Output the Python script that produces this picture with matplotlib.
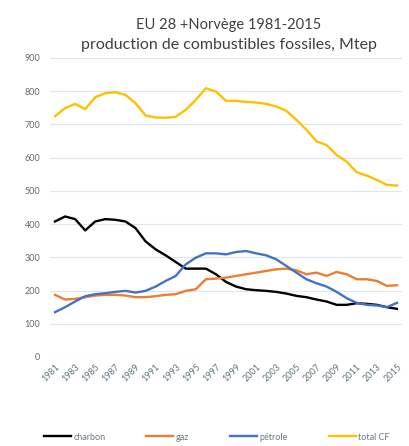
import matplotlib
matplotlib.use("Agg")
import matplotlib.pyplot as plt

# ── data (Mtep) ──────────────────────────────────────────────────────────────
years = list(range(1981, 2016))

charbon = [408, 423, 415, 381, 408, 415, 413, 408, 388, 348,
           324, 306, 286, 266, 266, 266, 249, 226, 212, 204,
           201, 199, 196, 191, 184, 180, 173, 167, 157, 157,
           162, 160, 157, 150, 145]

gaz = [187, 173, 175, 180, 185, 187, 187, 185, 180, 180,
       183, 187, 189, 199, 204, 234, 236, 239, 244, 249,
       254, 259, 264, 266, 261, 249, 254, 244, 256, 249,
       234, 234, 229, 214, 216]

petrole = [135, 150, 167, 183, 189, 192, 196, 199, 194, 199,
           212, 229, 244, 279, 299, 312, 312, 309, 316, 319,
           312, 306, 294, 274, 254, 234, 222, 212, 196, 177,
           163, 157, 155, 150, 163]

total_cf = [725, 749, 762, 746, 782, 794, 797, 789, 764, 727,
            721, 720, 723, 744, 774, 809, 799, 771, 771, 768,
            766, 762, 754, 741, 714, 684, 649, 638, 608, 588,
            556, 546, 533, 518, 516]

x_ticks = list(range(1981, 2016, 2))
y_ticks = list(range(0, 1000, 100))

# ── figure ───────────────────────────────────────────────────────────────────
plt.rcParams["font.family"] = ["Lato", "DejaVu Sans"]

fig = plt.figure(figsize=(4.09, 4.46), dpi=100)
ax = fig.add_axes([50 / 409, 1 - 357 / 446, 352 / 409, (357 - 58) / 446])

ax.plot(years, charbon, color="#000000", lw=1.7, label="charbon")
ax.plot(years, gaz, color="#ED7D31", lw=1.7, label="gaz")
ax.plot(years, petrole, color="#4472C4", lw=1.7, label="pétrole")
ax.plot(years, total_cf, color="#FFC000", lw=1.7, label="total CF")

ax.set_xlim(1980.5, 2015.5)
ax.set_ylim(0, 900)
ax.set_yticks(y_ticks)
ax.set_xticks(x_ticks)
ax.set_xticklabels([str(y) for y in x_ticks], rotation=45, ha="right",
                   rotation_mode="anchor", fontsize=6.5, color="#5f7580")
ax.tick_params(axis="y", labelsize=6.5, labelcolor="#5f6a70", length=0, pad=7)
ax.tick_params(axis="x", length=0, pad=4)

ax.grid(axis="y", color="#dbe6ee", lw=0.8)
ax.set_axisbelow(True)
for s in ax.spines.values():
    s.set_visible(False)

fig.text(0.56, 0.945, "EU 28 +Norvège 1981-2015", ha="center", va="center",
         fontsize=10.5, color="#404040")
fig.text(0.56, 0.898, "production de combustibles fossiles, Mtep",
         ha="center", va="center", fontsize=11.5, color="#404040")

fig.legend(loc="center", bbox_to_anchor=(0.53, 0.02), ncol=4, frameon=False,
           fontsize=6.5, handlelength=3.0, handletextpad=0.3,
           columnspacing=4.5, labelcolor="#6a7880")

fig.savefig("out.png", dpi=100, facecolor="white")
